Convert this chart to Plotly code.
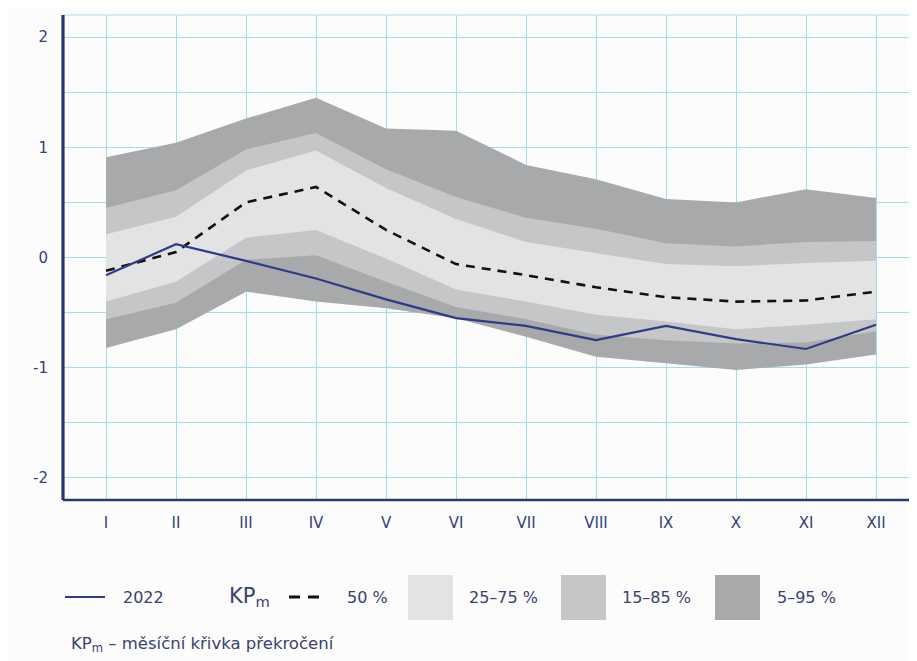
import plotly.graph_objects as go

months = ["I", "II", "III", "IV", "V", "VI", "VII", "VIII", "IX", "X", "XI", "XII"]
x_pos = list(range(1, 13))

p95 = [0.91, 1.04, 1.26, 1.45, 1.17, 1.15, 0.84, 0.71, 0.53, 0.50, 0.62, 0.54]
p85 = [0.45, 0.61, 0.98, 1.13, 0.80, 0.55, 0.36, 0.26, 0.13, 0.10, 0.14, 0.15]
p75 = [0.21, 0.37, 0.79, 0.97, 0.63, 0.35, 0.14, 0.04, -0.06, -0.08, -0.05, -0.03]
p50 = [-0.12, 0.05, 0.50, 0.64, 0.25, -0.06, -0.16, -0.27, -0.36, -0.40, -0.39, -0.31]
p25 = [-0.40, -0.22, 0.18, 0.25, -0.01, -0.29, -0.40, -0.52, -0.58, -0.65, -0.61, -0.56]
p15 = [-0.56, -0.41, -0.02, 0.02, -0.22, -0.45, -0.56, -0.70, -0.75, -0.78, -0.77, -0.67]
p5 = [-0.82, -0.65, -0.31, -0.40, -0.46, -0.55, -0.72, -0.90, -0.96, -1.02, -0.97, -0.88]
y2022 = [-0.16, 0.12, -0.03, -0.19, -0.38, -0.55, -0.62, -0.75, -0.62, -0.74, -0.83, -0.61]

y_ticks = [-2, -1.5, -1, -0.5, 0, 0.5, 1, 1.5, 2]
y_ticktext = ["-2", "", "-1", "", "0", "", "1", "", "2"]

DARK = "#a7a9aa"
MED = "#c5c6c7"
LIGHT = "#e3e3e4"
NAVY = "#2f3b86"
AXIS = "#2c3670"
GRID = "#a6dbe8"
TXT = "#3b4070"
TICK = "#34407e"
BG = "#fcfcfc"
FONT = "DejaVu Sans"

# page body has an 8px margin; figure is sized to fill the rest of the window
OFF = 8
WIN_W, WIN_H = 917, 661
W, H = WIN_W - OFF, WIN_H - OFF
# plot area in window pixels
L, R, T, B = 63, 915, 15, 500


def px(x):
    return (x - L) / (R - L)


def py(y):
    return (B - y) / (B - T)


fig = go.Figure()

for hi, lo, col in [(p95, p5, DARK), (p85, p15, MED), (p75, p25, LIGHT)]:
    fig.add_trace(go.Scatter(x=x_pos, y=hi, mode="lines", line=dict(width=0, color=col),
                             showlegend=False, hoverinfo="skip"))
    fig.add_trace(go.Scatter(x=x_pos, y=lo, mode="lines", line=dict(width=0, color=col),
                             fill="tonexty", fillcolor=col, showlegend=False, hoverinfo="skip"))

fig.add_trace(go.Scatter(x=x_pos, y=p50, mode="lines",
                         line=dict(color="#111111", width=2.6, dash="9px,7px"),
                         showlegend=False))
fig.add_trace(go.Scatter(x=x_pos, y=y2022, mode="lines",
                         line=dict(color=NAVY, width=2.2), showlegend=False))

shapes = []
shapes.append(dict(type="line", xref="paper", yref="paper", x0=0, x1=1, y0=1, y1=1,
                   line=dict(color=GRID, width=1.2), layer="below"))
shapes.append(dict(type="line", xref="paper", yref="paper", x0=1, x1=1, y0=0, y1=1,
                   line=dict(color=GRID, width=1.2), layer="below"))
shapes.append(dict(type="line", xref="paper", yref="paper", x0=0, x1=px(917), y0=0, y1=0,
                   line=dict(color=AXIS, width=2.5)))
shapes.append(dict(type="line", xref="paper", yref="paper", x0=0, x1=0, y0=0, y1=1,
                   line=dict(color=AXIS, width=3.2)))

ly = py(597)
shapes.append(dict(type="line", xref="paper", yref="paper", x0=px(65), x1=px(105), y0=ly, y1=ly,
                   line=dict(color=NAVY, width=2.2)))
shapes.append(dict(type="line", xref="paper", yref="paper", x0=px(289), x1=px(322), y0=ly, y1=ly,
                   line=dict(color="#111111", width=3, dash="11px,8px")))
for x0, col in [(408, LIGHT), (561, MED), (715, DARK)]:
    shapes.append(dict(type="rect", xref="paper", yref="paper", x0=px(x0), x1=px(x0 + 45),
                       y0=py(620), y1=py(575), fillcolor=col, line=dict(width=0)))

annotations = []
for x0, text, size in [(121, "2022", 16), (227, "KP<sub>m</sub>", 21), (345, "50 %", 16),
                       (467, "25–75 %", 16), (620, "15–85 %", 16), (775, "5–95 %", 16)]:
    annotations.append(dict(xref="paper", yref="paper", x=px(x0), y=ly, text=text,
                            showarrow=False, xanchor="left", yanchor="middle",
                            font=dict(family=FONT, size=size, color=TXT)))
annotations.append(dict(xref="paper", yref="paper", x=px(69), y=py(644),
                        text="KP<sub>m</sub> – měsíční křivka překročení",
                        showarrow=False, xanchor="left", yanchor="middle",
                        font=dict(family=FONT, size=16.5, color=TXT)))

fig.update_layout(
    width=W, height=H,
    margin=dict(l=L - OFF, r=WIN_W - R, t=T - OFF, b=WIN_H - B, pad=0),
    paper_bgcolor=BG, plot_bgcolor=BG,
    shapes=shapes, annotations=annotations,
    font=dict(family=FONT, color=TXT),
    xaxis=dict(range=[1 - (106 - L) / 70.0, 12 + (R - 876) / 70.0], automargin=False,
               tickvals=x_pos, ticktext=months, showgrid=True, gridcolor=GRID, gridwidth=1.2,
               zeroline=False, showline=False, ticks="", ticklabelstandoff=12,
               tickfont=dict(family=FONT, size=15, color=TICK)),
    yaxis=dict(range=[-2.2, 2.2], tickvals=y_ticks, ticktext=y_ticktext, automargin=False,
               showgrid=True, gridcolor=GRID, gridwidth=1.2, zeroline=False, showline=False,
               ticks="", ticklabelstandoff=14,
               tickfont=dict(family=FONT, size=15, color=TICK)),
)

fig.write_html("out.html")
